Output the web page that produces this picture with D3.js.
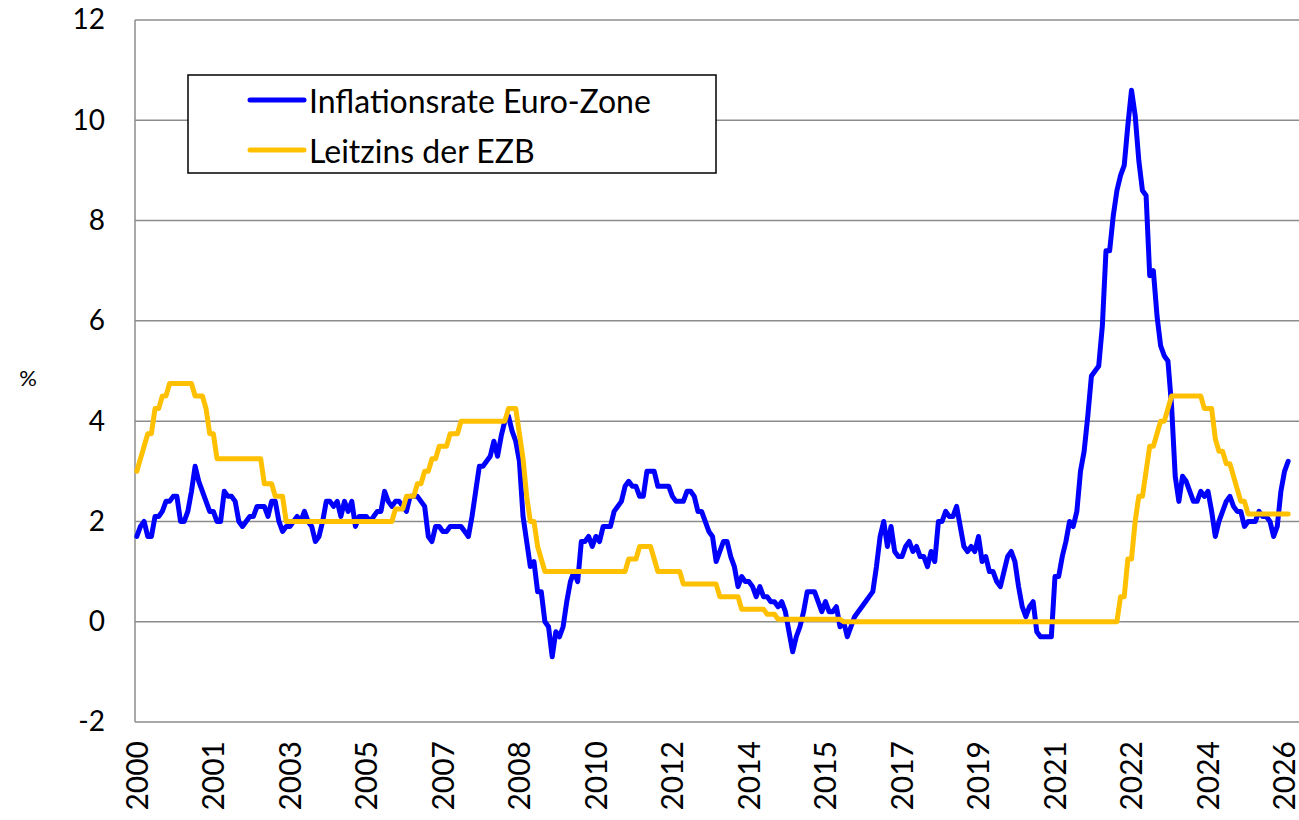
<!DOCTYPE html>
<html>
<head>
<meta charset="utf-8">
<script src="https://cdn.jsdelivr.net/npm/d3@7"></script>
<style>
    body { margin: 0; background: #fff; }
    #chart { width: 1299px; height: 820px; }
    text { font-family: Lato, "Open Sans", sans-serif; fill: #000; }
</style>
</head>
<body>
<div id="chart"></div>
<script>

// monthly values, Jan 2000 .. May 2026 (one row per year)
var inflation = [
    1.7, 1.9, 2.0, 1.7, 1.7, 2.1, 2.1, 2.2, 2.4, 2.4, 2.5, 2.5,
    2.0, 2.0, 2.2, 2.6, 3.1, 2.8, 2.6, 2.4, 2.2, 2.2, 2.0, 2.0,
    2.6, 2.5, 2.5, 2.4, 2.0, 1.9, 2.0, 2.1, 2.1, 2.3, 2.3, 2.3,
    2.1, 2.4, 2.4, 2.0, 1.8, 1.9, 1.9, 2.0, 2.1, 2.0, 2.2, 2.0,
    1.9, 1.6, 1.7, 2.0, 2.4, 2.4, 2.3, 2.4, 2.1, 2.4, 2.2, 2.4,
    1.9, 2.1, 2.1, 2.1, 2.0, 2.1, 2.2, 2.2, 2.6, 2.4, 2.3, 2.4,
    2.4, 2.3, 2.2, 2.5, 2.5, 2.5, 2.4, 2.3, 1.7, 1.6, 1.9, 1.9,
    1.8, 1.8, 1.9, 1.9, 1.9, 1.9, 1.8, 1.7, 2.1, 2.6, 3.1, 3.1,
    3.2, 3.3, 3.6, 3.3, 3.7, 4.0, 4.1, 3.8, 3.6, 3.2, 2.1, 1.6,
    1.1, 1.2, 0.6, 0.6, 0.0, -0.1, -0.7, -0.2, -0.3, -0.1, 0.4, 0.8,
    1.0, 0.8, 1.6, 1.6, 1.7, 1.5, 1.7, 1.6, 1.9, 1.9, 1.9, 2.2,
    2.3, 2.4, 2.7, 2.8, 2.7, 2.7, 2.5, 2.5, 3.0, 3.0, 3.0, 2.7,
    2.7, 2.7, 2.7, 2.5, 2.4, 2.4, 2.4, 2.6, 2.6, 2.5, 2.2, 2.2,
    2.0, 1.8, 1.7, 1.2, 1.4, 1.6, 1.6, 1.3, 1.1, 0.7, 0.9, 0.8,
    0.8, 0.7, 0.5, 0.7, 0.5, 0.5, 0.4, 0.4, 0.3, 0.4, 0.2, -0.2,
    -0.6, -0.3, -0.1, 0.2, 0.6, 0.6, 0.6, 0.4, 0.2, 0.4, 0.2, 0.2,
    0.3, -0.1, 0.0, -0.3, -0.1, 0.1, 0.2, 0.3, 0.4, 0.5, 0.6, 1.1,
    1.7, 2.0, 1.5, 1.9, 1.4, 1.3, 1.3, 1.5, 1.6, 1.4, 1.5, 1.3,
    1.3, 1.1, 1.4, 1.2, 2.0, 2.0, 2.2, 2.1, 2.1, 2.3, 1.9, 1.5,
    1.4, 1.5, 1.4, 1.7, 1.2, 1.3, 1.0, 1.0, 0.8, 0.7, 1.0, 1.3,
    1.4, 1.2, 0.7, 0.3, 0.1, 0.3, 0.4, -0.2, -0.3, -0.3, -0.3, -0.3,
    0.9, 0.9, 1.3, 1.6, 2.0, 1.9, 2.2, 3.0, 3.4, 4.1, 4.9, 5.0,
    5.1, 5.9, 7.4, 7.4, 8.1, 8.6, 8.9, 9.1, 9.9, 10.6, 10.1, 9.2,
    8.6, 8.5, 6.9, 7.0, 6.1, 5.5, 5.3, 5.2, 4.3, 2.9, 2.4, 2.9,
    2.8, 2.6, 2.4, 2.4, 2.6, 2.5, 2.6, 2.2, 1.7, 2.0, 2.2, 2.4,
    2.5, 2.3, 2.2, 2.2, 1.9, 2.0, 2.0, 2.0, 2.2, 2.1, 2.1, 2.0,
    1.7, 1.9, 2.6, 3.0, 3.2
];

var leitzins = [
    3.0, 3.25, 3.5, 3.75, 3.75, 4.25, 4.25, 4.5, 4.5, 4.75, 4.75, 4.75,
    4.75, 4.75, 4.75, 4.75, 4.5, 4.5, 4.5, 4.25, 3.75, 3.75, 3.25, 3.25,
    3.25, 3.25, 3.25, 3.25, 3.25, 3.25, 3.25, 3.25, 3.25, 3.25, 3.25, 2.75,
    2.75, 2.75, 2.5, 2.5, 2.5, 2.0, 2.0, 2.0, 2.0, 2.0, 2.0, 2.0,
    2.0, 2.0, 2.0, 2.0, 2.0, 2.0, 2.0, 2.0, 2.0, 2.0, 2.0, 2.0,
    2.0, 2.0, 2.0, 2.0, 2.0, 2.0, 2.0, 2.0, 2.0, 2.0, 2.0, 2.25,
    2.25, 2.25, 2.5, 2.5, 2.5, 2.75, 2.75, 3.0, 3.0, 3.25, 3.25, 3.5,
    3.5, 3.5, 3.75, 3.75, 3.75, 4.0, 4.0, 4.0, 4.0, 4.0, 4.0, 4.0,
    4.0, 4.0, 4.0, 4.0, 4.0, 4.0, 4.25, 4.25, 4.25, 3.75, 3.25, 2.5,
    2.0, 2.0, 1.5, 1.25, 1.0, 1.0, 1.0, 1.0, 1.0, 1.0, 1.0, 1.0,
    1.0, 1.0, 1.0, 1.0, 1.0, 1.0, 1.0, 1.0, 1.0, 1.0, 1.0, 1.0,
    1.0, 1.0, 1.0, 1.25, 1.25, 1.25, 1.5, 1.5, 1.5, 1.5, 1.25, 1.0,
    1.0, 1.0, 1.0, 1.0, 1.0, 1.0, 0.75, 0.75, 0.75, 0.75, 0.75, 0.75,
    0.75, 0.75, 0.75, 0.75, 0.5, 0.5, 0.5, 0.5, 0.5, 0.5, 0.25, 0.25,
    0.25, 0.25, 0.25, 0.25, 0.25, 0.15, 0.15, 0.15, 0.05, 0.05, 0.05, 0.05,
    0.05, 0.05, 0.05, 0.05, 0.05, 0.05, 0.05, 0.05, 0.05, 0.05, 0.05, 0.05,
    0.05, 0.05, 0, 0, 0, 0, 0, 0, 0, 0, 0, 0,
    0, 0, 0, 0, 0, 0, 0, 0, 0, 0, 0, 0,
    0, 0, 0, 0, 0, 0, 0, 0, 0, 0, 0, 0,
    0, 0, 0, 0, 0, 0, 0, 0, 0, 0, 0, 0,
    0, 0, 0, 0, 0, 0, 0, 0, 0, 0, 0, 0,
    0, 0, 0, 0, 0, 0, 0, 0, 0, 0, 0, 0,
    0, 0, 0, 0, 0, 0, 0.5, 0.5, 1.25, 1.25, 2.0, 2.5,
    2.5, 3.0, 3.5, 3.5, 3.75, 4.0, 4.0, 4.25, 4.5, 4.5, 4.5, 4.5,
    4.5, 4.5, 4.5, 4.5, 4.5, 4.25, 4.25, 4.25, 3.65, 3.4, 3.4, 3.15,
    3.15, 2.9, 2.65, 2.4, 2.4, 2.15, 2.15, 2.15, 2.15, 2.15, 2.15, 2.15,
    2.15, 2.15, 2.15, 2.15, 2.15
];

var tickLabels = ["2000", "2001", "2003", "2005", "2007", "2008", "2010", "2012",
    "2014", "2015", "2017", "2019", "2021", "2022", "2024", "2026"];
var labelEvery = 21;   // one label every 21 months

var yTicks = [-2, 0, 2, 4, 6, 8, 10, 12];

var seriesNames = ["Inflationsrate Euro-Zone", "Leitzins der EZB"];
var seriesColors = ["#0000ff", "#ffc000"];


var width = 1299;
var height = 820;
var plot = { left: 135, right: 1290, top: 20, bottom: 722 };

var svg = d3.select("#chart")
    .append("svg")
    .attr("width", width)
    .attr("height", height);

var x = d3.scaleBand()
    .domain(d3.range(inflation.length))
    .range([plot.left, plot.right]);

function xc(i) { return x(i) + x.bandwidth() / 2; }

var y = d3.scaleLinear()
    .domain([-2, 12])
    .range([plot.bottom, plot.top]);


// gridlines
svg.append("g")
    .selectAll("line")
    .data(yTicks)
    .enter()
    .append("line")
        .attr("x1", plot.left)
        .attr("x2", width)
        .attr("y1", function(d) { return y(d); })
        .attr("y2", function(d) { return y(d); })
        .attr("stroke", "#8c8c8c")
        .attr("stroke-width", 1.5);

svg.append("line")
    .attr("x1", plot.left)
    .attr("x2", plot.left)
    .attr("y1", plot.top)
    .attr("y2", plot.bottom)
    .attr("stroke", "#8c8c8c")
    .attr("stroke-width", 1.5);


// y axis
var yAxis = svg.append("g")
    .attr("transform", "translate(" + plot.left + ",0)")
    .call(d3.axisLeft(y)
        .tickValues(yTicks)
        .tickSize(0)
        .tickPadding(30)
        .tickFormat(function(d) { return String(d); }));

yAxis.select(".domain").remove();
yAxis.selectAll("text")
    .style("font-size", "28px")
    .style("font-family", "Lato, sans-serif")
    .attr("fill", "#000");

svg.append("text")
    .attr("x", 28)
    .attr("y", 377)
    .attr("text-anchor", "middle")
    .attr("dominant-baseline", "central")
    .style("font-size", "22px")
    .text("%");


// x axis
var tickIdx = tickLabels.map(function(d, i) { return i * labelEvery; });

var xAxis = svg.append("g")
    .attr("transform", "translate(0," + plot.bottom + ")")
    .call(d3.axisBottom(x)
        .tickValues(tickIdx)
        .tickSize(0)
        .tickFormat(function(d, i) { return tickLabels[i]; }));

xAxis.select(".domain").remove();
xAxis.selectAll("text")
    .attr("transform", "rotate(-90)")
    .attr("text-anchor", "end")
    .attr("x", -19)
    .attr("y", 0)
    .attr("dy", "0.36em")
    .style("font-size", "30px")
    .style("font-family", "Lato, sans-serif")
    .attr("fill", "#000");


// lines
var line = d3.line()
    .x(function(d, i) { return xc(i); })
    .y(function(d) { return y(d); });

[inflation, leitzins].forEach(function(series, k) {
    svg.append("path")
        .datum(series)
        .attr("d", line)
        .attr("fill", "none")
        .attr("stroke", seriesColors[k])
        .attr("stroke-width", 5)
        .attr("stroke-linejoin", "round")
        .attr("stroke-linecap", "round");
});


// legend
var legend = svg.append("g");

legend.append("rect")
    .attr("x", 188)
    .attr("y", 75)
    .attr("width", 528)
    .attr("height", 98)
    .attr("fill", "#fff")
    .attr("stroke", "#000")
    .attr("stroke-width", 1.5);

var items = legend.selectAll(".item")
    .data(seriesNames)
    .enter()
    .append("g")
        .attr("class", "item")
        .attr("transform", function(d, i) { return "translate(0," + (100 + i * 50) + ")"; });

items.append("line")
    .attr("x1", 250)
    .attr("x2", 304)
    .attr("stroke", function(d, i) { return seriesColors[i]; })
    .attr("stroke-width", 5)
    .attr("stroke-linecap", "round");

items.append("text")
    .attr("x", 309)
    .attr("dominant-baseline", "central")
    .style("font-size", "32px")
    .text(function(d) { return d; });

</script>
</body>
</html>
